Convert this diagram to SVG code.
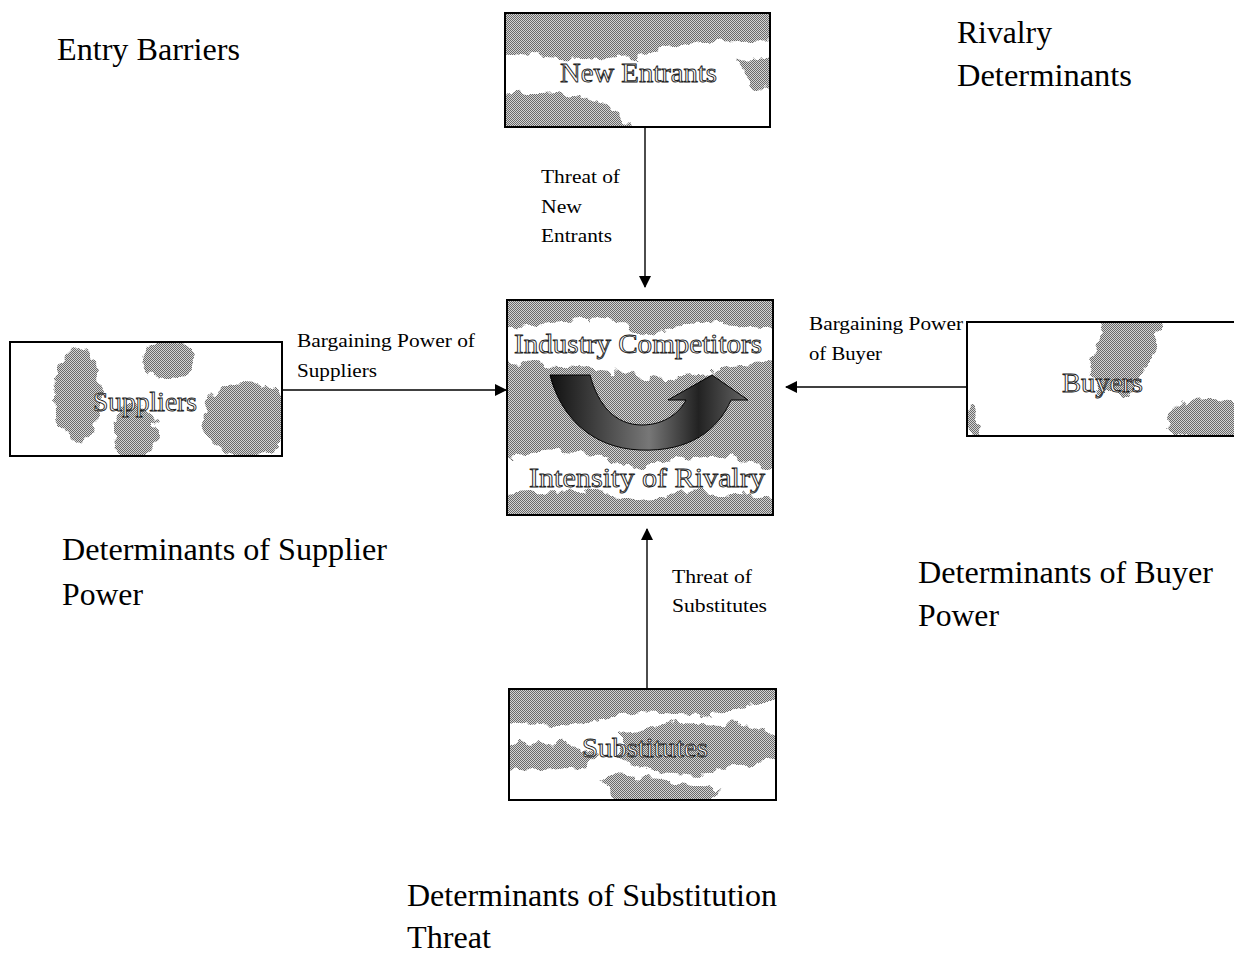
<svg xmlns="http://www.w3.org/2000/svg" width="1234" height="953" viewBox="0 0 1234 953">
<style>
.big{font-family:"Liberation Serif","Times New Roman",serif;font-size:31px;fill:#000}
.sm{font-family:"Liberation Serif","Times New Roman",serif;font-size:19px;fill:#000}
.bx{font-family:"Liberation Serif","Times New Roman",serif;font-size:28px;fill:#fff;stroke:#222;stroke-width:0.9px}
.box{stroke:#000;stroke-width:2;fill:#fff}
.box2{stroke:#000;stroke-width:2;fill:none}
.m{fill:#fff}
.con{stroke:#000;stroke-width:1.4;fill:none}
</style>
<defs>
<pattern id="dither" width="2" height="2" patternUnits="userSpaceOnUse">
<rect width="2" height="2" fill="#d4d4d4"/>
<rect width="1" height="1" fill="#6a6a6a"/>
<rect x="1" y="1" width="1" height="1" fill="#6a6a6a"/>
</pattern>
<filter id="rough" x="-10%" y="-10%" width="120%" height="120%">
<feTurbulence type="fractalNoise" baseFrequency="0.07" numOctaves="3" seed="3"/>
<feDisplacementMap in="SourceGraphic" scale="16" xChannelSelector="R" yChannelSelector="G"/>
</filter>
<linearGradient id="arrowg" x1="0" y1="0" x2="1" y2="0">
<stop offset="0" stop-color="#111"/>
<stop offset="0.5" stop-color="#777"/>
<stop offset="0.75" stop-color="#222"/>
<stop offset="1" stop-color="#666"/>
</linearGradient>
<marker id="ah" markerWidth="12" markerHeight="12" refX="11" refY="6" orient="auto" markerUnits="userSpaceOnUse">
<path d="M0,0 L12,6 L0,12 Z" fill="#000"/>
</marker>
<mask id="mNE" maskUnits="userSpaceOnUse" x="505" y="13" width="265" height="114">
<g filter="url(#rough)">
<path class="m" d="M495,5 L785,5 L785,40 L700,42 L640,55 L600,60 L560,58 L520,55 L495,50 Z"/>
<path class="m" d="M495,95 L560,92 L610,105 L640,135 L495,135 Z"/>
<path class="m" d="M740,60 L785,55 L785,95 L750,85 Z"/>
</g>
</mask>
<mask id="mIC" maskUnits="userSpaceOnUse" x="507" y="300" width="266" height="215">
<g filter="url(#rough)">
<path class="m" d="M495,290 L785,290 L785,330 L700,322 L650,335 L610,320 L560,322 L495,330 Z"/>
<path class="m" d="M495,360 L560,365 L620,372 L660,380 L720,370 L785,360 L785,470 L720,455 L680,460 L640,470 L600,455 L540,450 L495,460 Z"/>
<path class="m" d="M495,495 L580,488 L640,500 L700,492 L785,500 L785,525 L495,525 Z"/>
</g>
</mask>
<mask id="mSU" maskUnits="userSpaceOnUse" x="10" y="342" width="272" height="114">
<g filter="url(#rough)">
<ellipse class="m" cx="78" cy="395" rx="24" ry="45"/>
<ellipse class="m" cx="135" cy="432" rx="22" ry="28"/>
<ellipse class="m" cx="168" cy="360" rx="26" ry="18"/>
<ellipse class="m" cx="245" cy="420" rx="42" ry="38"/>
</g>
</mask>
<mask id="mBU" maskUnits="userSpaceOnUse" x="967" y="322" width="267" height="114">
<g filter="url(#rough)">
<path class="m" d="M1105,315 L1165,315 L1150,360 L1130,395 L1100,395 L1090,370 Z"/>
<ellipse class="m" cx="1210" cy="420" rx="45" ry="22"/>
<ellipse class="m" cx="972" cy="420" rx="8" ry="16"/>
</g>
</mask>
<mask id="mSB" maskUnits="userSpaceOnUse" x="509" y="689" width="267" height="111">
<g filter="url(#rough)">
<path class="m" d="M500,680 L785,680 L785,700 L700,715 L640,712 L600,720 L560,725 L500,722 Z"/>
<path class="m" d="M620,735 L680,722 L740,725 L785,735 L785,760 L740,765 L700,775 L660,772 L620,760 Z"/>
<path class="m" d="M500,745 L560,742 L600,752 L590,765 L540,770 L500,768 Z"/>
<path class="m" d="M600,775 L660,780 L720,790 L700,808 L620,808 Z"/>
</g>
</mask>
</defs>
<rect width="1234" height="953" fill="#fff"/>

<g id="connectors">
<line class="con" x1="645" y1="127" x2="645" y2="287" marker-end="url(#ah)"/>
<line class="con" x1="282" y1="390" x2="506" y2="390" marker-end="url(#ah)"/>
<line class="con" x1="967" y1="387" x2="786" y2="387" marker-end="url(#ah)"/>
<line class="con" x1="647" y1="689" x2="647" y2="529" marker-end="url(#ah)"/>
</g>

<g id="new-entrants">
<rect class="box" x="505" y="13" width="265" height="114"/>
<rect x="505" y="13" width="265" height="114" fill="url(#dither)" mask="url(#mNE)"/>
<rect class="box2" x="505" y="13" width="265" height="114"/>
<text class="bx" x="560" y="82" textLength="157" lengthAdjust="spacingAndGlyphs">New Entrants</text>
</g>

<g id="industry-competitors">
<rect class="box" x="507" y="300" width="266" height="215"/>
<rect x="507" y="300" width="266" height="215" fill="url(#dither)" mask="url(#mIC)"/>
<rect class="box2" x="507" y="300" width="266" height="215"/>
<path d="M550,375 L590,375 C598,405 615,425 642,425 C665,425 680,412 686,400 L668,400 L712,375 L748,400 L731,400 C718,430 690,452 640,450 C590,448 560,415 550,375 Z" fill="url(#arrowg)" stroke="#000" stroke-width="1"/>
<text class="bx" x="514" y="353" textLength="248" lengthAdjust="spacingAndGlyphs">Industry Competitors</text>
<text class="bx" x="529" y="487" textLength="236" lengthAdjust="spacingAndGlyphs">Intensity of Rivalry</text>
</g>

<g id="suppliers">
<rect class="box" x="10" y="342" width="272" height="114"/>
<rect x="10" y="342" width="272" height="114" fill="url(#dither)" mask="url(#mSU)"/>
<rect class="box2" x="10" y="342" width="272" height="114"/>
<text class="bx" x="93" y="411" textLength="104" lengthAdjust="spacingAndGlyphs">Suppliers</text>
</g>

<g id="buyers">
<rect class="box" x="967" y="322" width="270" height="114"/>
<rect x="967" y="322" width="270" height="114" fill="url(#dither)" mask="url(#mBU)"/>
<rect class="box2" x="967" y="322" width="270" height="114"/>
<text class="bx" x="1062" y="392" textLength="81" lengthAdjust="spacingAndGlyphs">Buyers</text>
</g>

<g id="substitutes">
<rect class="box" x="509" y="689" width="267" height="111"/>
<rect x="509" y="689" width="267" height="111" fill="url(#dither)" mask="url(#mSB)"/>
<rect class="box2" x="509" y="689" width="267" height="111"/>
<text class="bx" x="582" y="757" textLength="126" lengthAdjust="spacingAndGlyphs">Substitutes</text>
</g>

<g id="labels">
<text class="sm" x="541" y="183" textLength="79" lengthAdjust="spacingAndGlyphs">Threat of</text>
<text class="sm" x="541" y="213" textLength="41" lengthAdjust="spacingAndGlyphs">New</text>
<text class="sm" x="541" y="242" textLength="71" lengthAdjust="spacingAndGlyphs">Entrants</text>
<text class="sm" x="297" y="347" textLength="178" lengthAdjust="spacingAndGlyphs">Bargaining Power of</text>
<text class="sm" x="297" y="377" textLength="80" lengthAdjust="spacingAndGlyphs">Suppliers</text>
<text class="sm" x="809" y="330" textLength="154" lengthAdjust="spacingAndGlyphs">Bargaining Power</text>
<text class="sm" x="809" y="360" textLength="73" lengthAdjust="spacingAndGlyphs">of Buyer</text>
<text class="sm" x="672" y="583" textLength="80" lengthAdjust="spacingAndGlyphs">Threat of</text>
<text class="sm" x="672" y="612" textLength="95" lengthAdjust="spacingAndGlyphs">Substitutes</text>
</g>

<g id="headings">
<text class="big" x="57" y="60" textLength="183" lengthAdjust="spacingAndGlyphs">Entry Barriers</text>
<text class="big" x="957" y="43" textLength="95" lengthAdjust="spacingAndGlyphs">Rivalry</text>
<text class="big" x="957" y="86" textLength="175" lengthAdjust="spacingAndGlyphs">Determinants</text>
<text class="big" x="62" y="560" textLength="325" lengthAdjust="spacingAndGlyphs">Determinants of Supplier</text>
<text class="big" x="62" y="605" textLength="81" lengthAdjust="spacingAndGlyphs">Power</text>
<text class="big" x="918" y="583" textLength="295" lengthAdjust="spacingAndGlyphs">Determinants of Buyer</text>
<text class="big" x="918" y="626" textLength="81" lengthAdjust="spacingAndGlyphs">Power</text>
<text class="big" x="407" y="906" textLength="370" lengthAdjust="spacingAndGlyphs">Determinants of Substitution</text>
<text class="big" x="407" y="948" textLength="84" lengthAdjust="spacingAndGlyphs">Threat</text>
</g>
</svg>
